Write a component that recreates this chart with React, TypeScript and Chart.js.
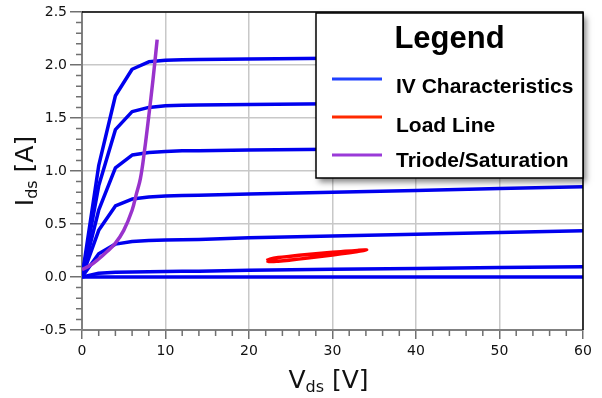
import React, { useEffect, useRef } from 'react';
import { Chart, registerables } from 'chart.js';

Chart.register(...registerables);

// Drain voltage samples shared by every output curve [V]
const VDS = [0, 2, 4, 6, 8, 10, 12, 14, 20, 30, 40, 50, 60];

// Drain current for each gate-voltage step [A], highest gate voltage first
const IDS_STEP_1 = [0, 1.05, 1.71, 1.96, 2.03, 2.045, 2.05, 2.052, 2.057, 2.063, 2.07, 2.078, 2.085];
const IDS_STEP_2 = [0, 0.86, 1.39, 1.56, 1.6, 1.615, 1.62, 1.622, 1.627, 1.634, 1.641, 1.649, 1.656];
const IDS_STEP_3 = [0, 0.63, 1.03, 1.15, 1.175, 1.185, 1.19, 1.192, 1.197, 1.205, 1.213, 1.221, 1.23];
const IDS_STEP_4 = [0, 0.44, 0.67, 0.735, 0.755, 0.765, 0.768, 0.771, 0.782, 0.8, 0.817, 0.835, 0.852];
const IDS_STEP_5 = [0, 0.22, 0.31, 0.335, 0.345, 0.35, 0.352, 0.354, 0.37, 0.387, 0.404, 0.42, 0.437];
const IDS_STEP_6 = [0, 0.035, 0.045, 0.048, 0.05, 0.053, 0.054, 0.055, 0.063, 0.072, 0.08, 0.089, 0.097];
const IDS_STEP_7 = [0, 0, 0, 0, 0, 0, 0, 0, 0, 0, 0, 0, 0];
const IDS_STEPS = [IDS_STEP_1, IDS_STEP_2, IDS_STEP_3, IDS_STEP_4, IDS_STEP_5, IDS_STEP_6, IDS_STEP_7];

// Boundary between the triode and saturation regions
const TRIODE_V = [0, 1, 2, 3, 4, 5, 6, 6.5, 7, 7.5, 8, 8.5, 9];
const TRIODE_I = [0.07, 0.11, 0.17, 0.24, 0.32, 0.44, 0.63, 0.78, 0.93, 1.2, 1.52, 1.86, 2.24];

// Operating-point excursion along the load line (closed loop)
const LOAD_V = [22.1, 22.5, 23.5, 25, 27, 29, 31, 33, 34.1, 33, 31, 29, 27, 25, 23.5, 22.5, 22.1];
const LOAD_I = [0.154, 0.168, 0.183, 0.196, 0.212, 0.226, 0.239, 0.251, 0.255, 0.241, 0.219, 0.198, 0.178, 0.16, 0.149, 0.146, 0.154];

// Axis ticks
const X_TICKS = [0, 10, 20, 30, 40, 50, 60];
const X_TICK_LABELS = ['0', '10', '20', '30', '40', '50', '60'];
const Y_TICKS = [-0.5, 0, 0.5, 1, 1.5, 2, 2.5];
const Y_TICK_LABELS = ['-0.5', '0.0', '0.5', '1.0', '1.5', '2.0', '2.5'];
const X_MINOR_STEP = 2;
const Y_MINOR_STEP = 0.1;

// Legend entries
const LEGEND_TITLE = 'Legend';
const LEGEND_LABELS = ['IV Characteristics', 'Load Line', 'Triode/Saturation'];
const LEGEND_COLORS = ['#1f40ff', '#ff2a00', '#9a3ad8'];

const CURVE_BLUE = '#0000ee';
const LOAD_RED = '#ff0000';
const TRIODE_PURPLE = '#9933cc';

const AXIS_FONT = '"DejaVu Sans", Verdana, sans-serif';
const LEGEND_FONT = '"Liberation Sans", Arial, Helvetica, sans-serif';

function drawSubscripted(
  ctx: CanvasRenderingContext2D,
  main: string,
  sub: string,
  rest: string,
  cx: number,
  baseline: number,
  size: number,
  subSize: number,
  drop: number
) {
  const mainFont = `${size}px ${AXIS_FONT}`;
  const subFont = `${subSize}px ${AXIS_FONT}`;
  ctx.font = mainFont;
  const w1 = ctx.measureText(main).width;
  const w3 = ctx.measureText(rest).width;
  ctx.font = subFont;
  const w2 = ctx.measureText(sub).width;
  let x = cx - (w1 + w2 + w3) / 2;
  ctx.textAlign = 'left';
  ctx.textBaseline = 'alphabetic';
  ctx.font = mainFont;
  ctx.fillText(main, x, baseline);
  x += w1;
  ctx.font = subFont;
  ctx.fillText(sub, x, baseline + drop);
  x += w2;
  ctx.font = mainFont;
  ctx.fillText(rest, x, baseline);
}

const decorPlugin = {
  id: 'ivDecor',
  afterDraw(chart: any) {
    const { ctx, chartArea: a, scales } = chart;
    const xs = scales.x;
    const ys = scales.y;
    ctx.save();

    // minor tick marks
    ctx.strokeStyle = '#707070';
    ctx.lineWidth = 1.5;
    ctx.beginPath();
    const yMin = Y_TICKS[0];
    const yMax = Y_TICKS[Y_TICKS.length - 1];
    const nY = Math.round((yMax - yMin) / Y_MINOR_STEP);
    for (let k = 1; k < nY; k++) {
      if (k % 5 === 0) continue;
      const py = ys.getPixelForValue(yMin + k * Y_MINOR_STEP);
      ctx.moveTo(a.left - 6, py);
      ctx.lineTo(a.left, py);
    }
    const xMax = X_TICKS[X_TICKS.length - 1];
    for (let v = X_MINOR_STEP; v < xMax; v += X_MINOR_STEP) {
      if (v % 10 === 0) continue;
      const px = xs.getPixelForValue(v);
      ctx.moveTo(px, a.bottom);
      ctx.lineTo(px, a.bottom + 6);
    }
    ctx.stroke();

    // top and right frame
    ctx.strokeStyle = '#000';
    ctx.lineWidth = 1.5;
    ctx.beginPath();
    ctx.moveTo(a.left, a.top);
    ctx.lineTo(a.right, a.top);
    ctx.lineTo(a.right, a.bottom);
    ctx.stroke();

    // axis titles
    ctx.fillStyle = '#111';
    drawSubscripted(ctx, 'V', 'ds', ' [V]', (a.left + a.right) / 2 - 4, 388, 25, 16, 4);
    ctx.save();
    ctx.translate(33, (a.top + a.bottom) / 2);
    ctx.rotate(-Math.PI / 2);
    drawSubscripted(ctx, 'I', 'ds', ' [A]', 0, 0, 25, 16, 4);
    ctx.restore();

    // legend box
    const bw = 267;
    const bh = 165;
    const bx = a.right - bw;
    const by = a.top + 1;
    ctx.save();
    ctx.shadowColor = 'rgba(0,0,0,0.5)';
    ctx.shadowBlur = 6;
    ctx.shadowOffsetX = 3;
    ctx.shadowOffsetY = 4;
    ctx.fillStyle = '#fff';
    ctx.fillRect(bx, by, bw, bh);
    ctx.restore();
    ctx.strokeStyle = '#000';
    ctx.lineWidth = 1.5;
    ctx.strokeRect(bx, by, bw, bh);

    ctx.fillStyle = '#000';
    ctx.textAlign = 'center';
    ctx.textBaseline = 'alphabetic';
    ctx.font = `bold 31px ${LEGEND_FONT}`;
    ctx.fillText(LEGEND_TITLE, bx + bw / 2, by + 35);

    const lineYs = [66, 104, 142];
    const textYs = [80, 119, 154];
    ctx.font = `bold 21px ${LEGEND_FONT}`;
    ctx.textAlign = 'left';
    LEGEND_LABELS.forEach((label, i) => {
      ctx.strokeStyle = LEGEND_COLORS[i];
      ctx.lineWidth = 3;
      ctx.beginPath();
      ctx.moveTo(bx + 16, by + lineYs[i]);
      ctx.lineTo(bx + 66, by + lineYs[i]);
      ctx.stroke();
      ctx.fillStyle = '#000';
      ctx.fillText(label, bx + 80, by + textYs[i]);
    });

    ctx.restore();
  },
};

export default function App() {
  const canvasRef = useRef<HTMLCanvasElement | null>(null);

  useEffect(() => {
    document.body.style.margin = '0';
    const canvas = canvasRef.current;
    if (!canvas) return;

    const ivSets = IDS_STEPS.map((curve, i) => ({
      label: i === 0 ? LEGEND_LABELS[0] : `${LEGEND_LABELS[0]} ${i + 1}`,
      data: VDS.map((v, j) => ({ x: v, y: curve[j] })),
      borderColor: CURVE_BLUE,
      borderWidth: 3.5,
      pointRadius: 0,
      tension: 0,
      borderJoinStyle: 'round' as const,
      order: 3,
    }));

    const chart = new Chart(canvas, {
      type: 'line',
      data: {
        datasets: [
          {
            label: LEGEND_LABELS[2],
            data: TRIODE_V.map((v, j) => ({ x: v, y: TRIODE_I[j] })),
            borderColor: TRIODE_PURPLE,
            borderWidth: 3.5,
            pointRadius: 0,
            tension: 0.4,
            order: 1,
          },
          {
            label: LEGEND_LABELS[1],
            data: LOAD_V.map((v, j) => ({ x: v, y: LOAD_I[j] })),
            borderColor: LOAD_RED,
            borderWidth: 3.5,
            pointRadius: 0,
            tension: 0.4,
            order: 2,
          },
          ...ivSets,
        ],
      },
      options: {
        responsive: false,
        animation: false,
        devicePixelRatio: 1,
        layout: { padding: { left: 0, right: 19, top: 12, bottom: 0 } },
        plugins: {
          legend: { display: false },
          tooltip: { enabled: false },
        },
        scales: {
          x: {
            type: 'linear',
            min: X_TICKS[0],
            max: X_TICKS[X_TICKS.length - 1],
            afterBuildTicks: (s: any) => {
              s.ticks = X_TICKS.map((v) => ({ value: v }));
            },
            ticks: {
              color: '#111',
              font: { family: AXIS_FONT, size: 14 },
              padding: 4,
              maxRotation: 0,
              autoSkip: false,
              callback: (_v: any, i: number) => X_TICK_LABELS[i],
            },
            grid: {
              color: '#c8c8c8',
              lineWidth: 1.5,
              tickColor: '#707070',
              tickLength: 9,
              tickWidth: 1.5,
            },
            border: { color: '#808080', width: 2 },
            afterFit: (s: any) => {
              s.height = 68;
            },
          },
          y: {
            type: 'linear',
            min: Y_TICKS[0],
            max: Y_TICKS[Y_TICKS.length - 1],
            afterBuildTicks: (s: any) => {
              s.ticks = Y_TICKS.map((v) => ({ value: v }));
            },
            ticks: {
              color: '#111',
              font: { family: AXIS_FONT, size: 14 },
              padding: 3,
              autoSkip: false,
              callback: (_v: any, i: number) => Y_TICK_LABELS[i],
            },
            grid: {
              color: '#c8c8c8',
              lineWidth: 1.5,
              tickColor: '#707070',
              tickLength: 12,
              tickWidth: 1.5,
            },
            border: { color: '#808080', width: 2 },
            afterFit: (s: any) => {
              s.width = 82;
            },
          },
        },
      },
      plugins: [decorPlugin],
    });

    return () => chart.destroy();
  }, []);

  return (
    <div style={{ width: 602, height: 398 }}>
      <canvas ref={canvasRef} width={602} height={398} style={{ display: 'block', width: 602, height: 398 }} />
    </div>
  );
}
